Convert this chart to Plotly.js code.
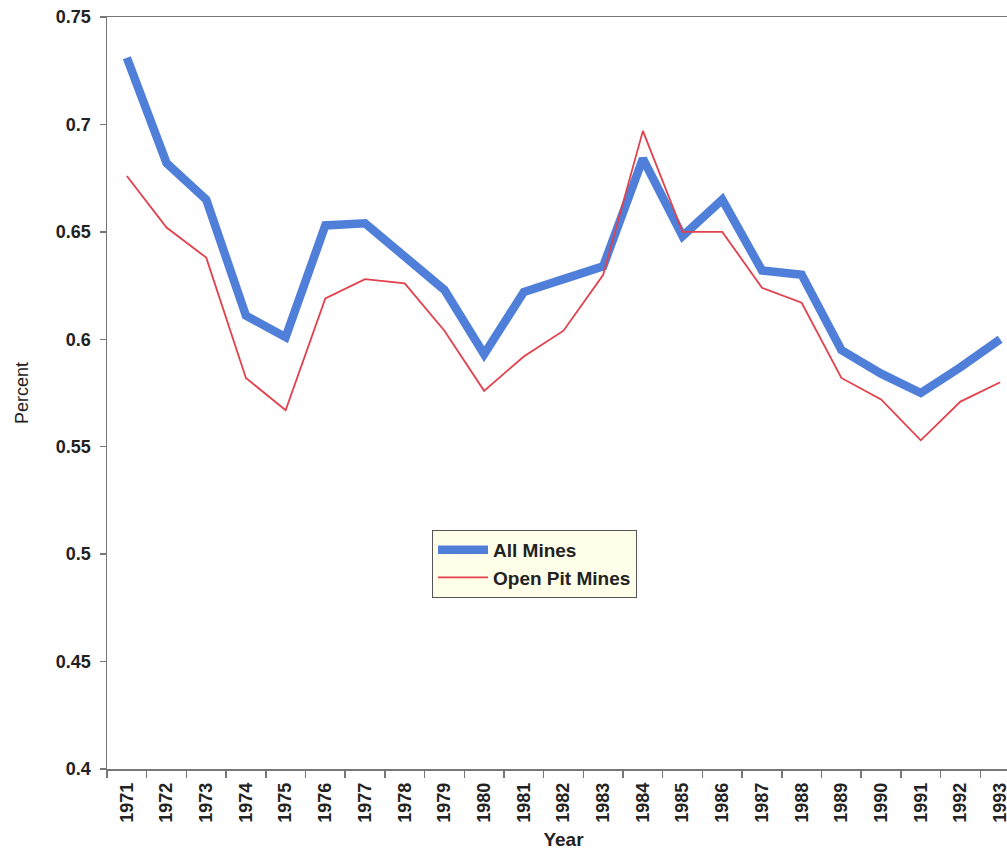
<!DOCTYPE html>
<html>
<head>
<meta charset="utf-8">
<script src="https://cdn.plot.ly/plotly-3.0.1.min.js"></script>
<style>
html, body { margin: 0; padding: 0; overflow: hidden; background: #ffffff; }
#chart { width: 1020px; height: 850px; }
</style>
</head>
<body>
<div id="chart"></div>
<script>
const years = ["1971","1972","1973","1974","1975","1976","1977","1978","1979","1980","1981","1982","1983","1984","1985","1986","1987","1988","1989","1990","1991","1992","1993"];
const allMines = [0.731,0.682,0.665,0.611,0.601,0.653,0.654,0.638,0.623,0.593,0.622,0.628,0.634,0.684,0.648,0.665,0.632,0.630,0.595,0.584,0.575,0.587,0.600];
const openPitMines = [0.676,0.652,0.638,0.582,0.567,0.619,0.628,0.626,0.604,0.576,0.592,0.604,0.630,0.697,0.650,0.650,0.624,0.617,0.582,0.572,0.553,0.571,0.580];
const yTickVals = [0.4,0.45,0.5,0.55,0.6,0.65,0.7,0.75];
const yTickText = ["0.4","0.45","0.5","0.55","0.6","0.65","0.7","0.75"];

const traces = [
  {
    x: years, y: allMines, type: "scatter", mode: "lines", name: "All Mines",
    line: { color: "#4f7fd9", width: 8.5 }
  },
  {
    x: years, y: openPitMines, type: "scatter", mode: "lines", name: "Open Pit Mines",
    line: { color: "#e2404c", width: 1.8 }
  }
];

const font = "Liberation Sans, Arial, sans-serif";
const layout = {
  width: 1020, height: 850,
  margin: { l: 107, r: 0, t: 17, b: 81 },
  paper_bgcolor: "#ffffff",
  plot_bgcolor: "#ffffff",
  showlegend: true,
  legend: {
    x: 0.356, y: 0.318, xanchor: "left", yanchor: "top",
    bgcolor: "#fefee9", bordercolor: "#555555", borderwidth: 1,
    font: { family: font, size: 19, color: "#222222", weight: "bold" },
    itemwidth: 50, tracegroupgap: 0
  },
  xaxis: {
    type: "category",
    range: [-0.5, 22.5],
    showgrid: false, zeroline: false,
    showline: true, linecolor: "#777777", linewidth: 1.5, mirror: true,
    ticks: "outside", ticklen: 7, tickcolor: "#777777", tickwidth: 1.5,
    tickson: "boundaries",
    tickangle: -90,
    ticklabelstandoff: 5,
    tickfont: { family: font, size: 18, color: "#222222", weight: "bold" },
    title: { text: "Year", font: { family: font, size: 19, color: "#222222", weight: "bold" }, standoff: 12 }
  },
  yaxis: {
    range: [0.4, 0.75],
    tickvals: yTickVals, ticktext: yTickText,
    showgrid: false, zeroline: false,
    showline: true, linecolor: "#777777", linewidth: 1.5,
    ticks: "outside", ticklen: 6, tickcolor: "#777777", tickwidth: 1.5,
    ticklabelstandoff: 5,
    tickfont: { family: font, size: 18, color: "#222222", weight: "bold" },
    title: { text: "Percent", font: { family: font, size: 18, color: "#222222" }, standoff: 22 }
  }
};

Plotly.newPlot("chart", traces, layout, { displayModeBar: false, staticPlot: true });
</script>
</body>
</html>
